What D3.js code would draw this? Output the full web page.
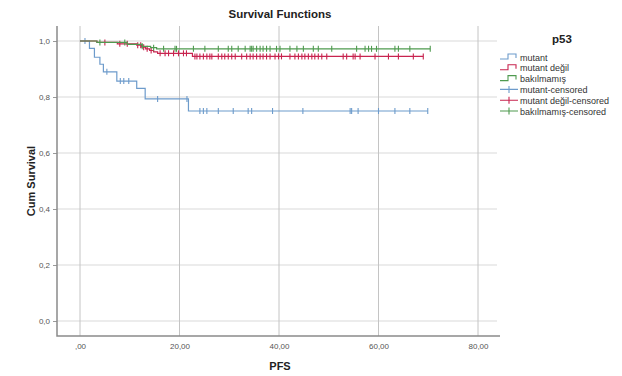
<!DOCTYPE html>
<html lang="tr">
<head>
<meta charset="UTF-8">
<title>Survival Functions</title>
<script src="https://d3js.org/d3.v7.min.js"></script>
<style>
  body { margin: 0; background: #fff; }
  text { font-family: "Liberation Sans", Arial, sans-serif; }
</style>
</head>
<body>
<div id="chart"></div>
<script>
// data
const groups = ["mutant", "mutant değil", "bakılmamış"];
const colors = ["#6d9bcb", "#c8244f", "#4f9a4f"];

// step curves: time where the step starts, survival after it
const mutantTimes = [0, 1.9, 2.9, 4.0, 4.7, 7.4, 11.4, 13.1, 21.8];
const mutantSurv  = [1.0, 0.974, 0.942, 0.917, 0.890, 0.857, 0.831, 0.793, 0.750];
const mutantEnd = 69.9;
const mutantCens = [1.0, 5.4, 8.1, 8.8, 9.8, 15.6, 21.5, 24.1, 24.8, 25.5, 27.8, 30.8, 33.8,
  34.5, 38.7, 44.8, 54.3, 54.6, 55.9, 60.0, 63.3, 66.3, 69.9];

const degilTimes = [0, 3.4, 7.5, 11.4, 12.4, 13.2, 14.0, 14.8, 15.6, 22.6];
const degilSurv  = [1.0, 0.995, 0.990, 0.985, 0.978, 0.972, 0.966, 0.961, 0.956, 0.945];
const degilEnd = 69.0;
const degilCens = [5.0, 8.0, 9.5, 11.6, 12.2, 12.8, 13.5, 14.3, 16.1, 17.1, 17.8, 18.8, 19.8,
  20.8, 21.4, 23.1, 23.5, 24.1, 24.8, 25.5, 26.1, 26.5, 27.8, 28.5, 29.1, 29.8, 30.5, 31.2,
  32.5, 33.5, 34.2, 34.8, 35.5, 36.2, 36.8, 37.5, 38.2, 39.2, 39.9, 40.5, 42.2, 43.2, 43.9,
  44.6, 45.2, 45.9, 46.6, 47.2, 47.9, 48.6, 49.6, 52.9, 53.6, 54.9, 55.3, 56.3, 59.3, 62.0,
  64.0, 67.0, 69.0];

const bakTimes = [0, 3.4, 9.5, 12.5, 14.2, 15.4];
const bakSurv  = [1.0, 0.995, 0.988, 0.981, 0.976, 0.972];
const bakEnd = 70.4;
const bakCens = [4.0, 9.0, 12.5, 14.8, 16.8, 19.1, 19.4, 22.8, 25.1, 27.8, 29.8, 30.5, 31.8,
  33.2, 34.2, 34.5, 34.8, 35.5, 36.2, 36.8, 37.5, 38.2, 39.5, 40.2, 42.2, 43.6, 44.9, 46.9,
  47.9, 50.6, 55.6, 57.3, 58.0, 58.6, 59.6, 63.3, 64.0, 66.3, 70.4];

const xTicks = [0, 20, 40, 60, 80];
const xTickLabels = [",00", "20,00", "40,00", "60,00", "80,00"];
const yTicks = [0, 0.2, 0.4, 0.6, 0.8, 1.0];
const yTickLabels = ["0,0", "0,2", "0,4", "0,6", "0,8", "1,0"];

const legendLabels = ["mutant", "mutant değil", "bakılmamış",
  "mutant-censored", "mutant değil-censored", "bakılmamış-censored"];

const series = [
  {times: mutantTimes, surv: mutantSurv, end: mutantEnd, cens: mutantCens},
  {times: degilTimes, surv: degilSurv, end: degilEnd, cens: degilCens},
  {times: bakTimes, surv: bakSurv, end: bakEnd, cens: bakCens}
];

const width = 622, height = 376;
const plot = {left: 57, right: 500, top: 26, bottom: 336};

const svg = d3.select("#chart").append("svg")
  .attr("width", width)
  .attr("height", height);

const x = d3.scaleLinear().domain([0, 80]).range([80, 478]);
const y = d3.scaleLinear().domain([0, 1]).range([321, 41]);

// grid
svg.append("g").selectAll("line")
  .data(yTicks)
  .enter().append("line")
  .attr("x1", plot.left).attr("x2", plot.right - 3)
  .attr("y1", d => y(d)).attr("y2", d => y(d))
  .attr("stroke", "#d9d9d9").attr("stroke-width", 1);

svg.append("g").selectAll("line")
  .data(xTicks)
  .enter().append("line")
  .attr("x1", d => x(d)).attr("x2", d => x(d))
  .attr("y1", plot.top).attr("y2", plot.bottom)
  .attr("stroke", "#c4c4c4").attr("stroke-width", 1);

// axes
const yAxis = svg.append("g")
  .attr("transform", `translate(${plot.left},0)`)
  .call(d3.axisLeft(y).tickValues(yTicks).tickSize(4)
    .tickFormat((d, i) => yTickLabels[i]));
yAxis.select(".domain").remove();
yAxis.selectAll("line").attr("stroke", "#9a9a9a");
yAxis.selectAll("text")
  .attr("fill", "#555").style("font-size", "8px")
  .style("font-family", "'Liberation Sans', Arial, sans-serif");

const xAxis = svg.append("g")
  .attr("transform", `translate(0,${plot.bottom})`)
  .call(d3.axisBottom(x).tickValues(xTicks).tickSize(0).tickPadding(7)
    .tickFormat((d, i) => xTickLabels[i]));
xAxis.select(".domain").remove();
xAxis.selectAll("text")
  .attr("fill", "#555").style("font-size", "8px")
  .style("font-family", "'Liberation Sans', Arial, sans-serif");

svg.append("path")
  .attr("d", `M${plot.left},${plot.top}V${plot.bottom}H${plot.right}`)
  .attr("fill", "none").attr("stroke", "#8a8a8a").attr("stroke-width", 1.5);

// curves
function survAt(s, t) {
  let v = s.surv[0];
  s.times.forEach((tt, i) => { if (tt <= t) v = s.surv[i]; });
  return v;
}

series.forEach((s, gi) => {
  const pts = s.times.map((t, i) => [t, s.surv[i]]);
  pts.push([s.end, s.surv[s.surv.length - 1]]);
  const line = d3.line().x(d => x(d[0])).y(d => y(d[1])).curve(d3.curveStepAfter);
  svg.append("path")
    .attr("d", line(pts))
    .attr("fill", "none")
    .attr("stroke", colors[gi])
    .attr("stroke-width", 1.2);

  svg.append("g").selectAll("line")
    .data(s.cens)
    .enter().append("line")
    .attr("x1", d => x(d)).attr("x2", d => x(d))
    .attr("y1", d => y(survAt(s, d)) - 3)
    .attr("y2", d => y(survAt(s, d)) + 3)
    .attr("stroke", colors[gi])
    .attr("stroke-width", 1.1);
});

// titles
svg.append("text")
  .attr("x", 280).attr("y", 18)
  .attr("text-anchor", "middle")
  .style("font-size", "11.5px").style("font-weight", "bold")
  .attr("fill", "#222")
  .text("Survival Functions");

svg.append("text")
  .attr("transform", "translate(35,181) rotate(-90)")
  .attr("text-anchor", "middle")
  .style("font-size", "11px").style("font-weight", "bold")
  .attr("fill", "#222")
  .text("Cum Survival");

svg.append("text")
  .attr("x", 280).attr("y", 370)
  .attr("text-anchor", "middle")
  .style("font-size", "11px").style("font-weight", "bold")
  .attr("fill", "#222")
  .text("PFS");

// legend
svg.append("text")
  .attr("x", 562).attr("y", 43)
  .attr("text-anchor", "middle")
  .style("font-size", "11.5px").style("font-weight", "bold")
  .attr("fill", "#222")
  .text("p53");

const leg = svg.append("g").selectAll("g")
  .data(legendLabels)
  .enter().append("g")
  .attr("transform", (d, i) => `translate(500,${57 + i * 10.8})`);

leg.append("path")
  .attr("d", (d, i) => i < 3
    ? "M0,2H8V-3H16V1"
    : "M0,0H18M9,-3.5V3.5")
  .attr("fill", "none")
  .attr("stroke", (d, i) => colors[i % 3])
  .attr("stroke-width", 1.1);

leg.append("text")
  .attr("x", 20).attr("y", 3.5)
  .style("font-size", "9px")
  .attr("fill", "#333")
  .text(d => d);
</script>
</body>
</html>
